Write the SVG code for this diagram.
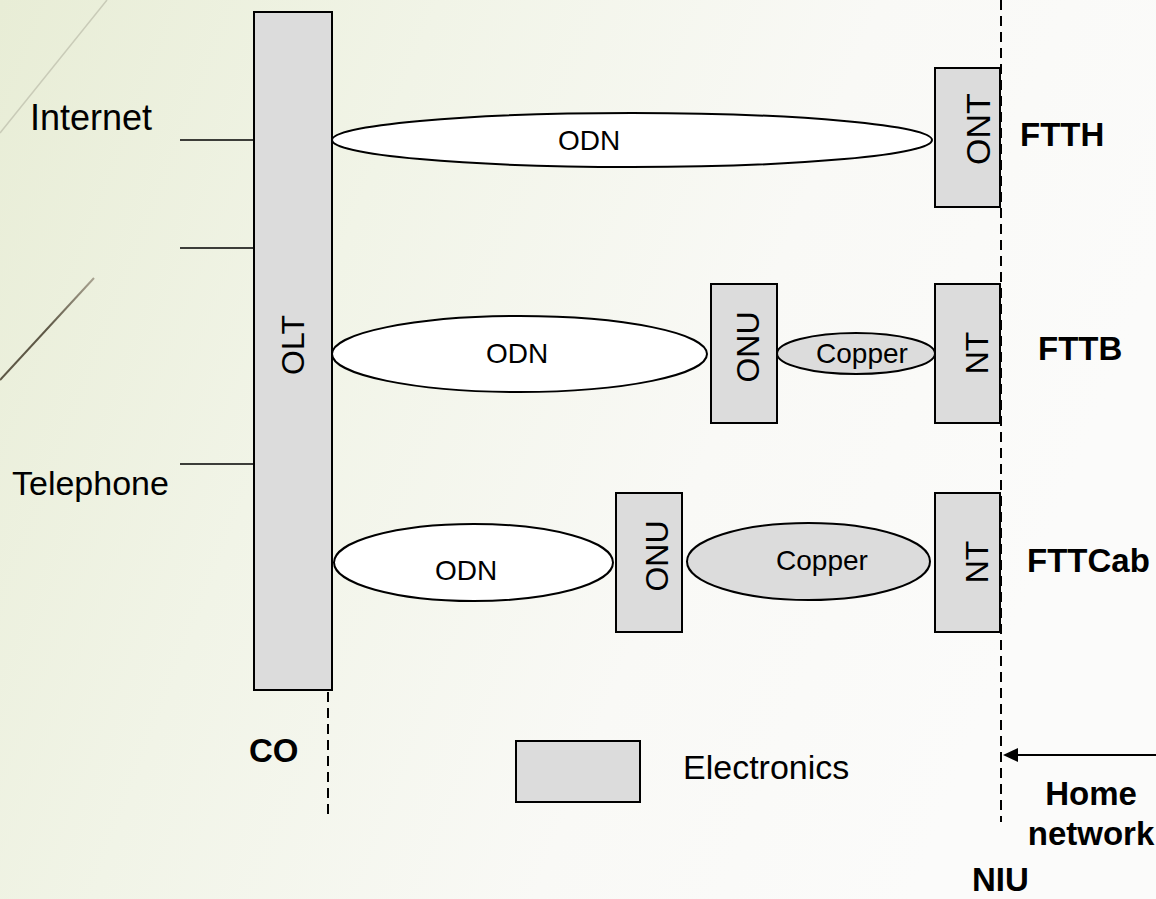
<svg xmlns="http://www.w3.org/2000/svg" width="1156" height="899" viewBox="0 0 1156 899">
<defs>
<linearGradient id="bg" x1="0" y1="0" x2="1" y2="0.3">
<stop offset="0" stop-color="#e8edd6"/>
<stop offset="0.35" stop-color="#f1f4e7"/>
<stop offset="0.7" stop-color="#f9f9f6"/>
<stop offset="1" stop-color="#fbfbfa"/>
</linearGradient>
<linearGradient id="deco2" x1="94" y1="278" x2="0" y2="380" gradientUnits="userSpaceOnUse">
<stop offset="0" stop-color="#a8a290"/>
<stop offset="0.5" stop-color="#5e5846"/>
<stop offset="1" stop-color="#5e5846"/>
</linearGradient>
<style>
.box{fill:#dcdcdc;stroke:#000;stroke-width:2}
.odn{fill:#fff;stroke:#000;stroke-width:2}
.cu{fill:#dcdcdc;stroke:#000;stroke-width:2}
.ln{stroke:#000;stroke-width:1.5;fill:none}
.dash{stroke:#000;stroke-width:2;stroke-dasharray:10,6;fill:none}
.t{font-family:"Liberation Sans",Arial,sans-serif;fill:#000}
.lbl{font-size:34px}
.el{font-size:28px;text-anchor:middle}
.rot{font-size:32px;text-anchor:middle}
.b{font-size:33px;font-weight:bold}
</style>
</defs>
<rect x="0" y="0" width="1156" height="899" fill="url(#bg)"/>
<line x1="107" y1="0" x2="0" y2="133" stroke="#c9cbb8" stroke-width="1.5"/>
<line x1="94" y1="278" x2="0" y2="380" stroke="url(#deco2)" stroke-width="2"/>

<g id="connectors">
<line class="ln" x1="180" y1="140" x2="254" y2="140"/>
<line class="ln" x1="180" y1="248" x2="254" y2="248"/>
<line class="ln" x1="180" y1="464" x2="254" y2="464"/>
<line class="dash" x1="1001" y1="0" x2="1001" y2="822"/>
<line class="dash" x1="328" y1="692" x2="328" y2="820"/>
<line stroke="#000" stroke-width="2" x1="1156" y1="755" x2="1014" y2="755"/>
<polygon points="1003,755 1018,748 1018,762" fill="#000"/>
</g>

<g id="labels-left">
<text class="t" x="30" y="130" style="font-size:36px">Internet</text>
<text class="t lbl" x="12" y="495">Telephone</text>
</g>

<g id="OLT">
<rect class="box" x="254" y="12" width="78" height="678"/>
<text class="t rot" transform="translate(304,345) rotate(-90)">OLT</text>
</g>

<g id="ODN-FTTH">
<ellipse class="odn" cx="632" cy="140" rx="300" ry="27"/>
<text class="t el" x="589" y="150">ODN</text>
</g>
<g id="ONT">
<rect class="box" x="935" y="68" width="65" height="139"/>
<text class="t rot" transform="translate(990,129) rotate(-90)" style="font-size:34px">ONT</text>
</g>
<g id="FTTH"><text class="t b" x="1020" y="146">FTTH</text></g>

<g id="ODN-FTTB">
<ellipse class="odn" cx="519.5" cy="354" rx="187.5" ry="38"/>
<text class="t el" x="517" y="363">ODN</text>
</g>
<g id="ONU-FTTB">
<rect class="box" x="711" y="284" width="66" height="139"/>
<text class="t rot" transform="translate(759,347) rotate(-90)">ONU</text>
</g>
<g id="Copper-FTTB">
<ellipse class="cu" cx="856" cy="353.5" rx="79" ry="20.5"/>
<text class="t el" x="862" y="363">Copper</text>
</g>
<g id="NT-FTTB">
<rect class="box" x="935" y="284" width="65" height="139"/>
<text class="t rot" transform="translate(988,353) rotate(-90)">NT</text>
</g>
<g id="FTTB"><text class="t b" x="1038" y="360">FTTB</text></g>

<g id="ODN-FTTCab">
<ellipse class="odn" cx="473.5" cy="562.5" rx="139.5" ry="38.5"/>
<text class="t el" x="466" y="580">ODN</text>
</g>
<g id="ONU-FTTCab">
<rect class="box" x="616" y="493" width="66" height="139"/>
<text class="t rot" transform="translate(668,556) rotate(-90)">ONU</text>
</g>
<g id="Copper-FTTCab">
<ellipse class="cu" cx="808.5" cy="561.5" rx="121.5" ry="38.5"/>
<text class="t el" x="822" y="570">Copper</text>
</g>
<g id="NT-FTTCab">
<rect class="box" x="935" y="493" width="65" height="139"/>
<text class="t rot" transform="translate(988,562) rotate(-90)">NT</text>
</g>
<g id="FTTCab"><text class="t b" x="1027" y="572">FTTCab</text></g>

<g id="CO"><text class="t b" x="249" y="762">CO</text></g>
<g id="legend">
<rect class="box" x="516" y="741" width="124" height="61"/>
<text class="t lbl" x="683" y="779">Electronics</text>
</g>
<g id="home-network">
<text class="t b" x="1091" y="805" text-anchor="middle">Home</text>
<text class="t b" x="1091" y="845" text-anchor="middle">network</text>
</g>
<g id="NIU"><text class="t b" x="972" y="891">NIU</text></g>
</svg>
